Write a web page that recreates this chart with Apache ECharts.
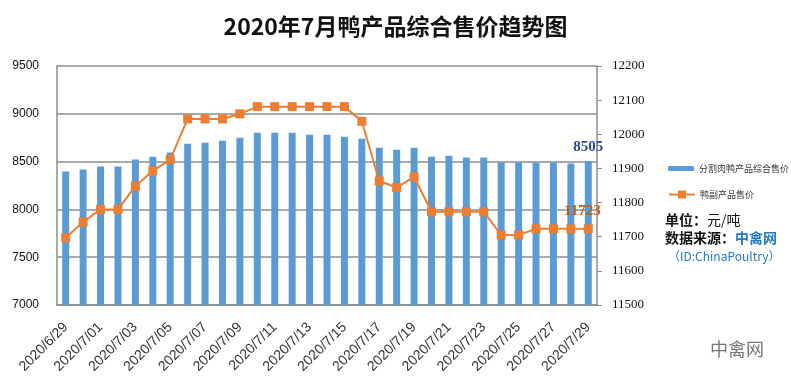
<!DOCTYPE html>
<html><head><meta charset="utf-8">
<script src="https://cdn.jsdelivr.net/npm/echarts@6/dist/echarts.min.js"></script>
<style>html,body{margin:0;padding:0;background:#fff}#c{width:791px;height:385px}</style>
</head><body><div id="c"></div>
<script>
const categories = ['2020/6/29','2020/6/30','2020/7/01','2020/7/02','2020/7/03','2020/7/04','2020/7/05','2020/7/06','2020/7/07','2020/7/08','2020/7/09','2020/7/10','2020/7/11','2020/7/12','2020/7/13','2020/7/14','2020/7/15','2020/7/16','2020/7/17','2020/7/18','2020/7/19','2020/7/20','2020/7/21','2020/7/22','2020/7/23','2020/7/24','2020/7/25','2020/7/26','2020/7/27','2020/7/28','2020/7/29'];
const meatPrice = [8396,8417,8448,8448,8521,8552,8594,8687,8698,8719,8750,8802,8802,8802,8781,8781,8760,8740,8646,8625,8646,8552,8562,8542,8542,8490,8490,8490,8490,8479,8505];
const byproductPrice = [11697,11743,11780,11780,11848,11893,11926,12045,12045,12045,12060,12081,12081,12081,12081,12081,12081,12038,11863,11844,11875,11773,11773,11773,11773,11705,11705,11723,11723,11723,11723];
const leftTicks = {min:7000, max:9500, interval:500};
const rightTicks = {min:11500, max:12200, interval:100};
const seriesNames = ['分割肉鸭产品综合售价','鸭副产品售价'];

const last = categories.length - 1;
const barData = meatPrice.map((v,i)=> i===last ? {value:v, label:{show:true, position:'top', distance:6, color:'#2f4b8c', fontWeight:'bold', fontSize:15, fontFamily:'Liberation Serif'}} : v);
const lineData = byproductPrice.map((v,i)=> i===last ? {value:v, label:{show:true, position:'top', distance:6, offset:[-6,0], color:'#c55a11', fontWeight:'bold', fontSize:15, fontFamily:'Liberation Serif'}} : v);

const chart = echarts.init(document.getElementById('c'));
const plain = v => String(v);
chart.setOption({
  animation:false,
  backgroundColor:'#fff',
  title:{text:'2020年7月鸭产品综合售价趋势图', left:'center', top:10, textStyle:{fontFamily:'Noto Sans CJK SC', fontWeight:'bold', fontSize:23, color:'#111'}},
  grid:{left:57, right:194, top:66, bottom:80},
  legend:[
    {data:[seriesNames[0]], orient:'vertical', left:663, top:159, itemWidth:26, itemHeight:5, itemGap:10, textStyle:{fontFamily:'Noto Sans CJK SC', fontSize:9, color:'#333'}},
    {data:[seriesNames[1]], orient:'vertical', left:663, top:185, itemWidth:26, itemHeight:10, itemGap:10, textStyle:{fontFamily:'Noto Sans CJK SC', fontSize:9, color:'#333'}}
  ],
  xAxis:{type:'category', data:categories, boundaryGap:true,
    axisLine:{lineStyle:{color:'#8c8c8c', width:1.5}}, axisTick:{show:false},
    axisLabel:{interval:1, rotate:45, margin:20, fontFamily:'Liberation Sans', fontSize:14, color:'#333'}},
  yAxis:[
    {type:'value', min:leftTicks.min, max:leftTicks.max, interval:leftTicks.interval,
      axisLine:{show:true, lineStyle:{color:'#8c8c8c', width:1.5}}, axisTick:{show:false},
      splitLine:{lineStyle:{color:'#8c8c8c', width:1.5}},
      axisLabel:{margin:18, formatter:plain, fontFamily:'Liberation Sans', fontSize:12, color:'#111'}},
    {type:'value', min:rightTicks.min, max:rightTicks.max, interval:rightTicks.interval, position:'right',
      axisLine:{show:true, lineStyle:{color:'#8c8c8c', width:1.5}}, axisTick:{show:true, length:5, lineStyle:{color:'#8c8c8c'}},
      splitLine:{show:false},
      axisLabel:{margin:15, formatter:plain, fontFamily:'Liberation Serif', fontSize:13, color:'#111'}}
  ],
  series:[
    {name:seriesNames[0], type:'bar', yAxisIndex:0, data:barData, barWidth:'40%', itemStyle:{color:'#5b9bd5'}},
    {name:seriesNames[1], type:'line', yAxisIndex:1, data:lineData, symbol:'rect', symbolSize:9,
      lineStyle:{color:'#ed7d31', width:2}, itemStyle:{color:'#ed7d31'}}
  ],
  graphic:[
    {type:'text', left:665, top:213, style:{rich:{b:{fontFamily:'Noto Sans CJK SC', fontWeight:'bold', fontSize:14, fill:'#111'}, n:{fontFamily:'Noto Sans CJK SC', fontSize:14, fill:'#111'}}, text:'{b|单位：}{n|元/吨}'}},
    {type:'text', left:665, top:231, style:{rich:{b:{fontFamily:'Noto Sans CJK SC', fontWeight:'bold', fontSize:14, fill:'#111'}, c:{fontFamily:'Noto Sans CJK SC', fontWeight:'bold', fontSize:14, fill:'#1f78c8'}}, text:'{b|数据来源：}{c|中禽网}'}},
    {type:'text', left:668, top:250, style:{text:'（ID:ChinaPoultry）', fontFamily:'Noto Sans CJK SC', fontSize:12, fill:'#1f78c8'}},
    {type:'text', left:710, top:340, style:{text:'中禽网', fontFamily:'Noto Sans CJK SC', fontSize:18, fill:'#777'}}
  ]
});
</script></body></html>
